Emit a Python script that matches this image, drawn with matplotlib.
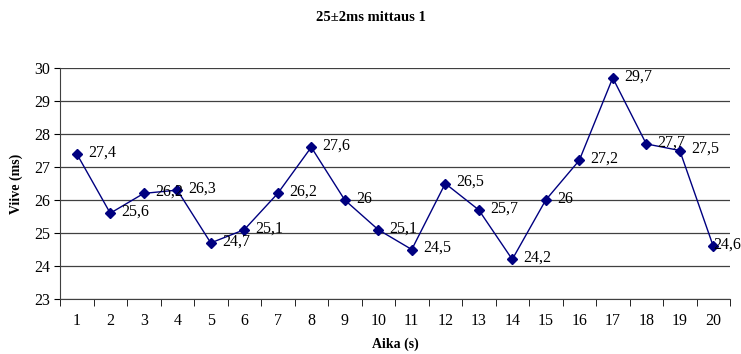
import matplotlib
matplotlib.use("Agg")
import matplotlib.pyplot as plt

x_labels = [str(i) for i in range(1, 21)]
values = [27.4, 25.6, 26.2, 26.3, 24.7, 25.1, 26.2, 27.6, 26.0, 25.1,
          24.5, 26.5, 25.7, 24.2, 26.0, 27.2, 29.7, 27.7, 27.5, 24.6]
y_ticks = [23, 24, 25, 26, 27, 28, 29, 30]

plt.rcParams['font.family'] = ['Liberation Serif', 'DejaVu Serif']

fig = plt.figure(figsize=(7.41, 3.54), dpi=100)
ax = fig.add_axes([60/741, 1 - 299/354, (730-60)/741, (299-68)/354])

xs = list(range(1, 21))
ax.plot(xs, values, color='#000080', lw=1.0, marker='D', ms=5, mfc='#000080', mec='#000080', zorder=3)

def fmt(v):
    s = ('%.1f' % v).rstrip('0').rstrip('.')
    return s.replace('.', ',')

for i, (x, v) in enumerate(zip(xs, values)):
    dx = 8 if i < len(xs) - 1 else 0
    ax.annotate(fmt(v), (x, v), xytext=(dx, 1), textcoords='offset points',
                va='center', ha='left', fontsize=11.5, zorder=4)

ax.set_xlim(0.5, 20.5)
ax.set_ylim(23, 30)
ax.set_yticks(y_ticks)
ax.set_yticklabels([str(t) for t in y_ticks], fontsize=11.5)
ax.set_xticks(xs)
ax.set_xticklabels(x_labels, fontsize=11.5)
ax.tick_params(axis='x', length=0, pad=10)
ax.set_xticks([i + 0.5 for i in range(0, 21)], minor=True)
ax.tick_params(axis='x', which='minor', length=5, direction='out', color='black')
ax.tick_params(axis='y', length=4, direction='out', pad=3)

ax.grid(axis='y', color='#404040', lw=0.9)
ax.set_axisbelow(True)
for s in ['top', 'right']:
    ax.spines[s].set_visible(False)
ax.spines['left'].set_color('#404040')
ax.spines['bottom'].set_color('#404040')

ax.set_xlabel('Aika (s)', fontsize=10, fontweight='bold', labelpad=6)
ax.set_ylabel('Viive (ms)', fontsize=10, fontweight='bold', labelpad=8)
fig.suptitle('25±2ms mittaus 1', fontsize=10.5, fontweight='bold', y=1 - 11/354)

fig.savefig('out.png', dpi=100)
